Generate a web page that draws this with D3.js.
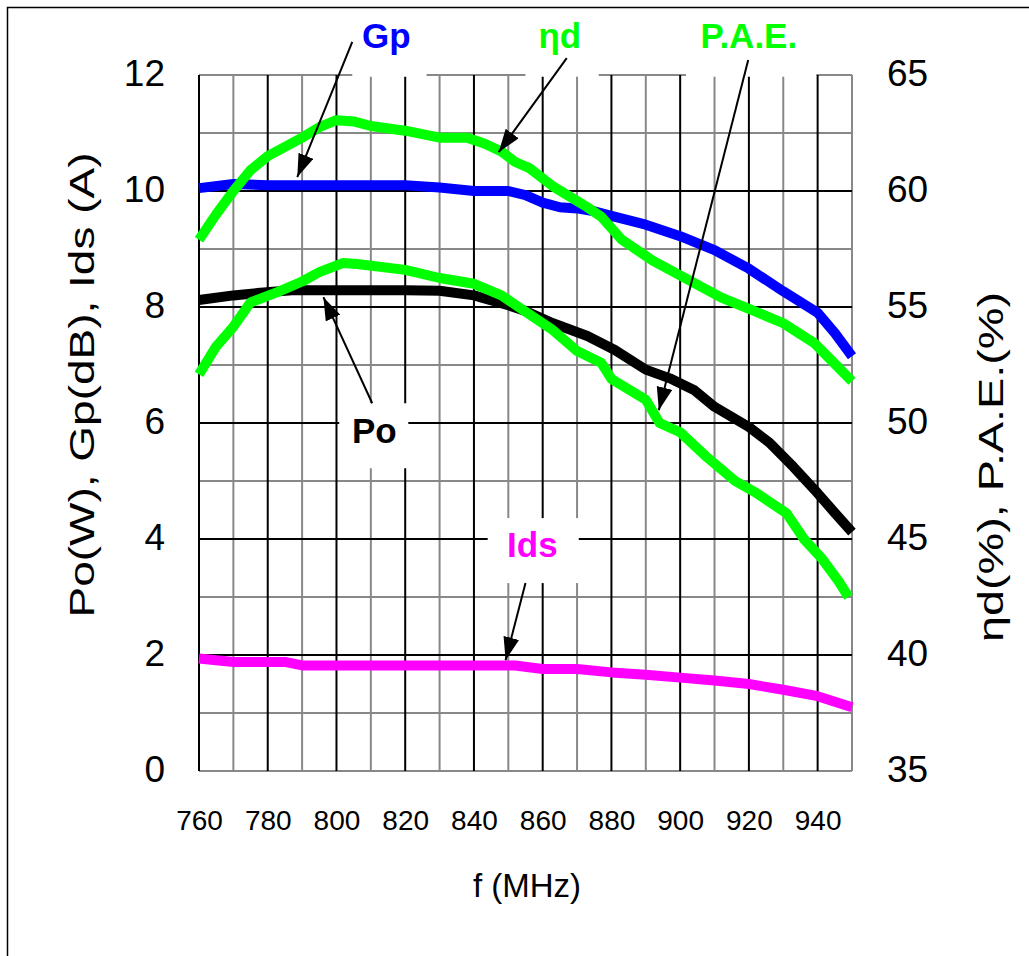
<!DOCTYPE html>
<html>
<head>
<meta charset="utf-8">
<script src="https://cdn.jsdelivr.net/npm/d3@7"></script>
<style>
body { margin: 0; background: #fff; }
text { font-family: "Liberation Sans", Arial, sans-serif; }
</style>
</head>
<body>
<div class="chart"></div>
<script>

// values (left axis: Po, Gp, Ids ; right axis: eta d, P.A.E.)
const gpFreq = [760, 770, 780, 790, 800, 810, 820, 830, 840, 850, 855, 860, 865, 870, 875, 880, 890, 900, 910, 920, 930, 940, 945, 950];
const gpVals = [10.05, 10.12, 10.1, 10.1, 10.1, 10.1, 10.1, 10.06, 10.0, 10.0, 9.93, 9.8, 9.72, 9.7, 9.65, 9.57, 9.42, 9.22, 8.98, 8.66, 8.27, 7.9, 7.55, 7.15];

const etaFreq = [760, 765, 770, 775, 780, 790, 795, 800, 805, 810, 820, 830, 838, 843, 848, 852, 856, 863, 873, 877, 883, 892, 902, 912, 922, 930, 939, 943, 950];
const etaVals = [57.9, 59.0, 60.0, 60.9, 61.5, 62.3, 62.75, 63.05, 63.0, 62.8, 62.6, 62.3, 62.3, 62.05, 61.7, 61.25, 61.0, 60.2, 59.3, 58.9, 57.9, 57.0, 56.2, 55.4, 54.8, 54.3, 53.45, 52.85, 51.8];

const paeFreq = [760, 765, 770, 775, 783, 790, 795, 802, 806, 820, 830, 840, 848, 854, 863, 870, 877, 880, 890, 894, 900, 908, 916, 922, 931, 936, 941, 946, 949];
const paeVals = [52.1, 53.3, 54.15, 55.2, 55.65, 56.1, 56.5, 56.9, 56.85, 56.6, 56.25, 56.0, 55.5, 54.9, 54.0, 53.1, 52.6, 51.9, 51.0, 50.0, 49.6, 48.5, 47.5, 47.0, 46.1, 45.0, 44.2, 43.2, 42.5];

const poFreq = [760, 770, 777, 787, 800, 820, 830, 840, 850, 855, 863, 873, 881, 890, 897, 904, 910, 920, 926, 933, 940, 945, 950];
const poVals = [8.12, 8.2, 8.24, 8.29, 8.29, 8.29, 8.28, 8.2, 8.03, 7.93, 7.72, 7.5, 7.26, 6.92, 6.77, 6.57, 6.28, 5.93, 5.66, 5.24, 4.79, 4.45, 4.12];

const idsFreq = [760, 770, 785, 790, 852, 860, 870, 880, 890, 900, 910, 920, 930, 940, 950];
const idsVals = [1.94, 1.88, 1.88, 1.82, 1.82, 1.76, 1.76, 1.7, 1.66, 1.61, 1.56, 1.5, 1.4, 1.29, 1.1];

// tick labels
const xTicks = [760, 780, 800, 820, 840, 860, 880, 900, 920, 940];
const leftTicks = [0, 2, 4, 6, 8, 10, 12];
const rightTicks = [35, 40, 45, 50, 55, 60, 65];

// callouts: label spot, arrow start/tip and white box, all in (MHz, left-axis units)
const callouts = [
    { text: "Gp", color: "#0000ff", tx: 814.5, ty: 12.47, box: [804.6, 826.2, 13.1, 11.97], from: [804.6, 12.57], to: [788.6, 10.24] },
    { text: "ηd", color: "#00ff00", tx: 865, ty: 12.47, box: [855, 876.3, 13.1, 11.97], from: [867, 12.29], to: [847.2, 10.67] },
    { text: "P.A.E.", color: "#00ff00", tx: 920, ty: 12.47, box: [901.7, 939.6, 13.1, 11.97], from: [919.8, 12.26], to: [893.8, 6.22] },
    { text: "Po", color: "#000000", tx: 811, ty: 5.66, box: [800.8, 820.9, 6.34, 5.22], from: [810.4, 6.34], to: [796.2, 8.17] },
    { text: "Ids", color: "#ff00ff", tx: 857, ty: 3.69, box: [844, 870.5, 4.36, 3.24], from: [855, 3.24], to: [849.2, 1.91] }
];


function DualAxisChart(container) {

    const W = 1029, H = 956;
    const margin = { top: 75, right: 177, bottom: 185, left: 199 };
    const width = W - margin.left - margin.right;   // 653
    const height = H - margin.top - margin.bottom;  // 696

    const root = d3.select(container)
        .append("svg")
        .attr("width", W)
        .attr("height", H);

    // thin frame round the whole picture (only top and left show)
    root.append("rect")
        .attr("x", 7.5).attr("y", 7.5)
        .attr("width", 1200).attr("height", 1200)
        .attr("fill", "none")
        .attr("stroke", "#000")
        .attr("stroke-width", 1.5);

    const svg = root.append("g")
        .attr("transform", `translate(${margin.left}, ${margin.top})`);

    const x = d3.scaleLinear().domain([760, 950]).range([0, width]);
    const yL = d3.scaleLinear().domain([0, 12]).range([height, 0]);
    const yR = d3.scaleLinear().domain([35, 65]).range([height, 0]);

    // grid: gray every 10 MHz / 1 unit, black every 20 MHz / 2 units
    const vLines = d3.range(760, 951, 10);
    const hLines = d3.range(0, 13, 1);
    const isBlackV = f => f % 20 === 0 && f !== 950;
    const isBlackH = v => v % 2 === 0 && v !== 0 && v !== 12;

    const grid = svg.append("g").attr("class", "grid");
    grid.selectAll(".hg").data(hLines.filter(v => !isBlackH(v))).join("line")
        .attr("x1", 0).attr("x2", width)
        .attr("y1", d => yL(d)).attr("y2", d => yL(d))
        .attr("stroke", "#888").attr("stroke-width", 2);
    grid.selectAll(".vg").data(vLines.filter(f => !isBlackV(f))).join("line")
        .attr("x1", d => x(d)).attr("x2", d => x(d))
        .attr("y1", 0).attr("y2", height)
        .attr("stroke", "#888").attr("stroke-width", 2);
    grid.selectAll(".hb").data(hLines.filter(isBlackH)).join("line")
        .attr("x1", 0).attr("x2", width)
        .attr("y1", d => yL(d)).attr("y2", d => yL(d))
        .attr("stroke", "#000").attr("stroke-width", 2);
    grid.selectAll(".vb").data(vLines.filter(isBlackV)).join("line")
        .attr("x1", d => x(d)).attr("x2", d => x(d))
        .attr("y1", 0).attr("y2", height)
        .attr("stroke", "#000").attr("stroke-width", 2);

    // axes (labels only, the grid does the lines)
    const xAxis = svg.append("g")
        .attr("transform", `translate(0, ${height})`)
        .call(d3.axisBottom(x).tickValues(xTicks).tickSize(0).tickPadding(39));
    const leftAxis = svg.append("g")
        .call(d3.axisLeft(yL).tickValues(leftTicks).tickSize(0).tickPadding(34));
    const rightAxis = svg.append("g")
        .attr("transform", `translate(${width}, 0)`)
        .call(d3.axisRight(yR).tickValues(rightTicks).tickSize(0).tickPadding(35));

    [xAxis, leftAxis, rightAxis].forEach(a => {
        a.select(".domain").remove();
        a.selectAll("text").attr("fill", "#000").attr("font-family", "Liberation Sans, Arial, sans-serif");
    });
    xAxis.selectAll("text").attr("font-size", 28);
    leftAxis.selectAll("text").attr("font-size", 37).attr("dy", "0.28em");
    rightAxis.selectAll("text").attr("font-size", 37).attr("dy", "0.28em");

    // series
    const lineL = d3.line().x(d => x(d[0])).y(d => yL(d[1]));
    const lineR = d3.line().x(d => x(d[0])).y(d => yR(d[1]));
    const zip = (a, b) => a.map((f, i) => [f, b[i]]);

    const series = [
        { pts: zip(poFreq, poVals), gen: lineL, color: "#000000" },
        { pts: zip(gpFreq, gpVals), gen: lineL, color: "#0000ff" },
        { pts: zip(etaFreq, etaVals), gen: lineR, color: "#00ff00" },
        { pts: zip(paeFreq, paeVals), gen: lineR, color: "#00ff00" },
        { pts: zip(idsFreq, idsVals), gen: lineL, color: "#ff00ff" }
    ];
    series.forEach(s => {
        svg.append("path")
            .datum(s.pts)
            .attr("d", s.gen)
            .attr("fill", "none")
            .attr("stroke", s.color)
            .attr("stroke-width", 10)
            .attr("stroke-linejoin", "round");
    });

    // arrow head
    root.append("defs").append("marker")
        .attr("id", "head")
        .attr("markerUnits", "userSpaceOnUse")
        .attr("markerWidth", 24).attr("markerHeight", 18)
        .attr("refX", 23).attr("refY", 8)
        .attr("orient", "auto")
        .append("path")
        .attr("d", "M0,0 L23,8 L0,16 Z")
        .attr("fill", "#000");

    // callouts: white box, label, arrow
    callouts.forEach(c => {
        svg.append("rect")
            .attr("x", x(c.box[0])).attr("y", yL(c.box[2]))
            .attr("width", x(c.box[1]) - x(c.box[0]))
            .attr("height", yL(c.box[3]) - yL(c.box[2]))
            .attr("fill", "#fff");
    });
    callouts.forEach(c => {
        svg.append("line")
            .attr("x1", x(c.from[0])).attr("y1", yL(c.from[1]))
            .attr("x2", x(c.to[0])).attr("y2", yL(c.to[1]))
            .attr("stroke", "#000").attr("stroke-width", 2)
            .attr("marker-end", "url(#head)");
        svg.append("text")
            .attr("x", x(c.tx)).attr("y", yL(c.ty))
            .attr("text-anchor", "middle")
            .attr("font-size", 35)
            .attr("font-weight", "bold")
            .attr("fill", c.color)
            .text(c.text);
    });

    // axis titles (stretched along their length as in the picture)
    root.append("text")
        .attr("transform", "translate(94, 385) rotate(-90)")
        .attr("text-anchor", "middle")
        .attr("font-size", 35)
        .attr("textLength", 465)
        .attr("lengthAdjust", "spacingAndGlyphs")
        .text("Po(W), Gp(dB), Ids (A)");
    root.append("text")
        .attr("transform", "translate(1003, 467) rotate(-90)")
        .attr("text-anchor", "middle")
        .attr("font-size", 35)
        .attr("textLength", 350)
        .attr("lengthAdjust", "spacingAndGlyphs")
        .text("ηd(%), P.A.E.(%)");
    root.append("text")
        .attr("x", 527).attr("y", 897)
        .attr("text-anchor", "middle")
        .attr("font-size", 33)
        .text("f (MHz)");
}

DualAxisChart(".chart");
</script>
</body>
</html>
